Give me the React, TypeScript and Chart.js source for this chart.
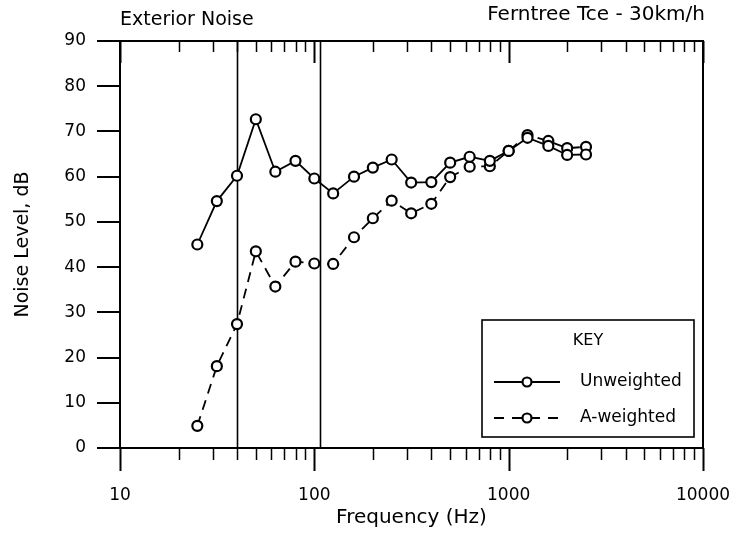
import { useEffect, useRef } from "react";
import { Chart, registerables } from "chart.js";

Chart.register(...registerables);

// ---- data ----
const frequencies = [25, 31.5, 40, 50, 63, 80, 100, 125, 160, 200, 250, 315, 400, 500, 630, 800, 1000, 1250, 1600, 2000, 2500];
const unweighted = [45.0, 54.6, 60.2, 72.7, 61.1, 63.5, 59.6, 56.3, 60.0, 62.0, 63.8, 58.7, 58.8, 63.1, 64.4, 63.5, 65.7, 68.6, 66.8, 64.8, 64.9];
const aWeighted = [4.9, 18.1, 27.4, 43.5, 35.7, 41.2, 40.8, 40.7, 46.6, 50.8, 54.7, 51.9, 54.0, 59.9, 62.2, 62.3, 65.7, 69.2, 67.9, 66.3, 66.6];
const seriesNames = ["Unweighted", "A-weighted"];
const xTickLabels = [10, 100, 1000, 10000];
const minorMultipliers = [2, 3, 4, 5, 6, 7, 8, 9];
const yMin = 0;
const yMax = 90;
const yStep = 10;
const markerFrequencies = [40, 107];
const titleLeft = "Exterior Noise";
const titleRight = "Ferntree Tce - 30km/h";
const xTitle = "Frequency (Hz)";
const yTitle = "Noise Level, dB";
const legendTitle = "KEY";

const FONT = "'DejaVu Sans', sans-serif";

const decorPlugin = {
  id: "decor",
  beforeDatasetsDraw(chart: any) {
    const { ctx, chartArea, scales } = chart;
    const x = scales.x;
    ctx.save();
    ctx.strokeStyle = "#000";
    ctx.lineWidth = 1.6;
    markerFrequencies.forEach((f) => {
      const px = Math.round(x.getPixelForValue(f)) + 0.5;
      ctx.beginPath();
      ctx.moveTo(px, chartArea.top);
      ctx.lineTo(px, chartArea.bottom);
      ctx.stroke();
    });
    ctx.restore();
  },
  afterDraw(chart: any) {
    const { ctx, chartArea, scales } = chart;
    const x = scales.x;
    const { left, right, top, bottom } = chartArea;
    ctx.save();
    ctx.strokeStyle = "#000";
    ctx.fillStyle = "#000";
    // frame
    ctx.lineWidth = 2;
    ctx.strokeRect(left, top, right - left, bottom - top);
    // x ticks top and bottom
    const ticks: { v: number; major: boolean }[] = [];
    xTickLabels.forEach((d, i) => {
      ticks.push({ v: d, major: true });
      if (i < xTickLabels.length - 1) minorMultipliers.forEach((m) => ticks.push({ v: d * m, major: false }));
    });
    ticks.forEach(({ v, major }) => {
      const px = Math.round(x.getPixelForValue(v)) + 0.5;
      ctx.lineWidth = major ? 2 : 1.5;
      ctx.beginPath();
      ctx.moveTo(px, bottom);
      ctx.lineTo(px, bottom + (major ? 23 : 12));
      ctx.moveTo(px, top);
      ctx.lineTo(px, top + (major ? 22 : 11));
      ctx.stroke();
    });
    // titles
    ctx.textBaseline = "middle";
    ctx.textAlign = "left";
    ctx.font = `19px ${FONT}`;
    ctx.fillText(titleLeft, left, 20);
    ctx.textAlign = "right";
    ctx.font = `20px ${FONT}`;
    ctx.fillText(titleRight, right + 2, 15);

    // legend box
    const bx1 = right - 221;
    const bx2 = right - 9;
    const by1 = bottom - 128;
    const by2 = bottom - 11;
    ctx.lineWidth = 1.6;
    ctx.fillStyle = "#fff";
    ctx.fillRect(bx1, by1, bx2 - bx1, by2 - by1);
    ctx.strokeRect(bx1, by1, bx2 - bx1, by2 - by1);
    ctx.fillStyle = "#000";
    ctx.textAlign = "center";
    ctx.font = `16px ${FONT}`;
    ctx.fillText(legendTitle, (bx1 + bx2) / 2, by1 + 21);
    ctx.font = `17px ${FONT}`;
    ctx.textAlign = "left";
    const rows = [by1 + 62, by1 + 98];
    rows.forEach((ry, i) => {
      const sx1 = bx1 + 12;
      const sx2 = bx1 + 78;
      ctx.lineWidth = 1.8;
      ctx.setLineDash(i === 0 ? [] : [10, 8]);
      ctx.beginPath();
      ctx.moveTo(sx1, ry);
      ctx.lineTo(sx2, ry);
      ctx.stroke();
      ctx.setLineDash([]);
      ctx.beginPath();
      ctx.arc((sx1 + sx2) / 2, ry, 4.5, 0, Math.PI * 2);
      ctx.fillStyle = "#fff";
      ctx.fill();
      ctx.lineWidth = 2.2;
      ctx.stroke();
      ctx.fillStyle = "#000";
      ctx.fillText(seriesNames[i], bx1 + 98, ry);
    });
    ctx.restore();
  },
};

export default function App() {
  const canvasRef = useRef<HTMLCanvasElement | null>(null);

  useEffect(() => {
    document.body.style.margin = "0";
    const canvas = canvasRef.current;
    if (!canvas) return;
    const chart = new Chart(canvas, {
      type: "line",
      data: {
        datasets: [
          {
            label: seriesNames[0],
            data: frequencies.map((f, i) => ({ x: f, y: unweighted[i] })),
            borderColor: "#000",
            borderWidth: 1.8,
            pointRadius: 5,
            pointBorderWidth: 2.2,
            pointBackgroundColor: "#fff",
            pointBorderColor: "#000",
            tension: 0,
          },
          {
            label: seriesNames[1],
            data: frequencies.map((f, i) => ({ x: f, y: aWeighted[i] })),
            borderColor: "#000",
            borderWidth: 1.8,
            borderDash: [10, 7],
            pointRadius: 5,
            pointBorderWidth: 2.2,
            pointBackgroundColor: "#fff",
            pointBorderColor: "#000",
            tension: 0,
          },
        ],
      },
      options: {
        responsive: false,
        animation: false,
        devicePixelRatio: 1,
        layout: { padding: { left: 0, top: 41, right: 42, bottom: 0 } },
        plugins: {
          legend: { display: false },
          tooltip: { enabled: false },
        },
        scales: {
          x: {
            type: "logarithmic",
            min: 10,
            max: 10000,
            afterBuildTicks: (scale: any) => {
              scale.ticks = xTickLabels.map((v) => ({ value: v }));
            },
            afterFit: (scale: any) => {
              scale.height = 85;
              scale.paddingLeft = 0;
              scale.paddingRight = 0;
            },
            grid: { display: false },
            border: { display: false },
            ticks: {
              autoSkip: false,
              maxRotation: 0,
              padding: 29,
              color: "#000",
              font: { family: FONT, size: 17 },
              callback: (v: any) => String(v),
            },
            title: {
              display: true,
              text: xTitle,
              color: "#000",
              font: { family: FONT, size: 20 },
              padding: { top: 0, bottom: 3 },
            },
          },
          y: {
            min: yMin,
            max: yMax,
            afterFit: (scale: any) => {
              scale.width = 120;
              scale.paddingTop = 0;
              scale.paddingBottom = 0;
            },
            grid: {
              drawOnChartArea: false,
              drawTicks: true,
              tickLength: 23,
              tickColor: "#000",
              lineWidth: 2,
            },
            border: { display: false },
            ticks: {
              stepSize: yStep,
              padding: 11,
              color: "#000",
              font: { family: FONT, size: 17 },
            },
            title: {
              display: true,
              text: yTitle,
              color: "#000",
              font: { family: FONT, size: 19 },
              padding: { top: 12, bottom: 0 },
            },
          },
        },
      },
      plugins: [decorPlugin],
    });
    return () => chart.destroy();
  }, []);

  return (
    <div style={{ position: "absolute", left: 0, top: 0, width: 745, height: 533, background: "#fff" }}>
      <canvas ref={canvasRef} width={745} height={533} />
    </div>
  );
}
